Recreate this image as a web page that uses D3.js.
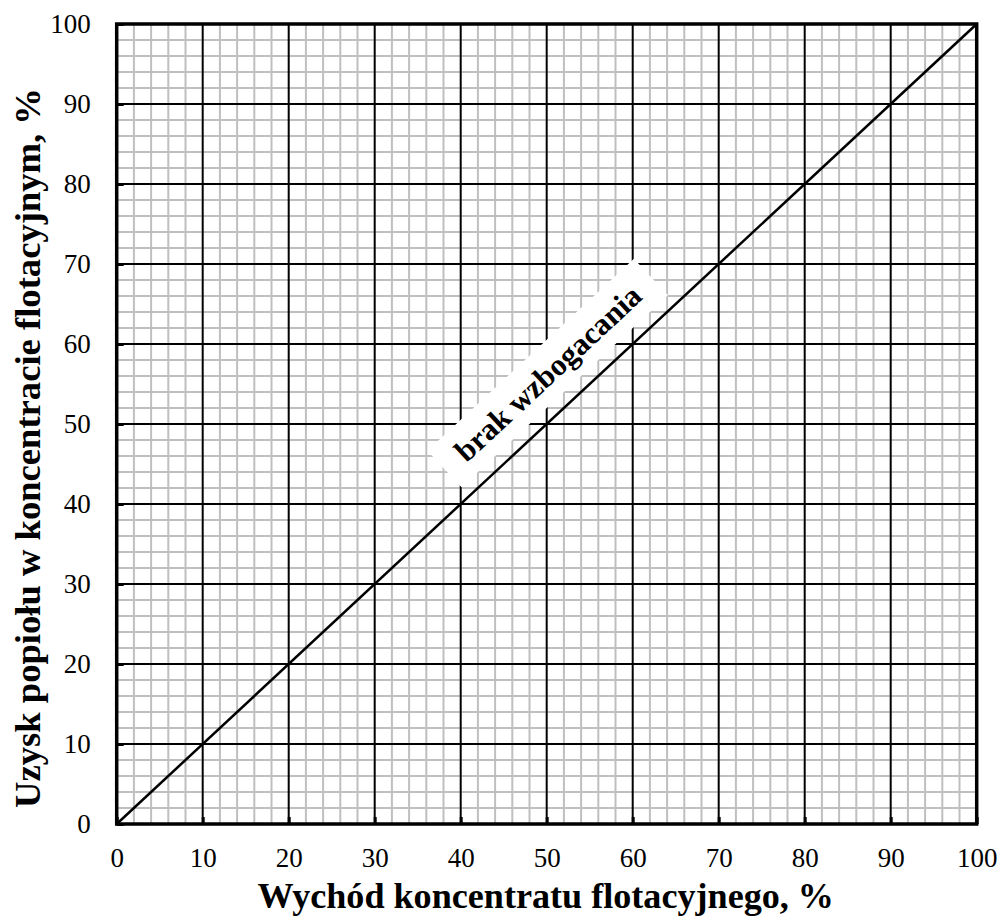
<!DOCTYPE html>
<html><head><meta charset="utf-8">
<script src="https://cdn.jsdelivr.net/npm/d3@7"></script>
<style>body{margin:0;background:#fff}svg{display:block}</style>
</head><body>
<svg id="c" width="1003" height="921"></svg>
<script>
const xTicks = [0,10,20,30,40,50,60,70,80,90,100];
const yTicks = [0,10,20,30,40,50,60,70,80,90,100];
const minorStep = 2;
const lineX = [0,100];
const lineY = [0,100];
const xTitle = "Wychód koncentratu flotacyjnego, %";
const yTitle = "Uzysk popiołu w koncentracie flotacyjnym, %";
const annotation = {text:"brak wzbogacania", x:50, y:50};

const svg = d3.select("#c");
const L=116.7, R=976.7, T=24, B=824;
const x = d3.scaleLinear().domain([0,100]).range([L,R]);
const y = d3.scaleLinear().domain([0,100]).range([B,T]);
const minor = d3.range(0,100.001,minorStep).filter(v=>v%10!==0);
const FONT = "Liberation Serif, Times New Roman, serif";

const g = svg.append("g");
g.selectAll(".mx").data(minor).join("line")
 .attr("x1",d=>x(d)).attr("x2",d=>x(d)).attr("y1",T).attr("y2",B)
 .attr("stroke","#bfbfbf").attr("stroke-width",2);
g.selectAll(".my").data(minor).join("line")
 .attr("y1",d=>y(d)).attr("y2",d=>y(d)).attr("x1",L).attr("x2",R)
 .attr("stroke","#bfbfbf").attr("stroke-width",2);
g.selectAll(".Mx").data(xTicks).join("line")
 .attr("x1",d=>x(d)).attr("x2",d=>x(d)).attr("y1",T).attr("y2",B)
 .attr("stroke","#000").attr("stroke-width",2);
g.selectAll(".My").data(yTicks).join("line")
 .attr("y1",d=>y(d)).attr("y2",d=>y(d)).attr("x1",L).attr("x2",R)
 .attr("stroke","#000").attr("stroke-width",2);

// diagonal
svg.append("path").datum(lineX.map((v,i)=>[v,lineY[i]]))
 .attr("d",d3.line().x(d=>x(d[0])).y(d=>y(d[1])))
 .attr("stroke","#000").attr("stroke-width",2.5).attr("fill","none");

// frame
svg.append("rect").attr("x",L).attr("y",T).attr("width",R-L).attr("height",B-T)
 .attr("fill","none").attr("stroke","#000").attr("stroke-width",3.5);

// axes (ticks inside)
const ax = svg.append("g").attr("transform",`translate(0,${B})`)
 .call(d3.axisBottom(x).tickValues(xTicks).tickSize(-7).tickPadding(18));
const ay = svg.append("g").attr("transform",`translate(${L},0)`)
 .call(d3.axisLeft(y).tickValues(yTicks).tickSize(-7).tickPadding(26));
[ax,ay].forEach(a=>{
  a.select(".domain").remove();
  a.selectAll(".tick line").attr("stroke","#000").attr("stroke-width",3);
  a.selectAll("text").attr("font-family",FONT)
   .attr("font-size",27).attr("fill","#000");
});
ax.selectAll("text").attr("dy","0.71em").attr("y",24);

// annotation
const ang = Math.atan2(y(0)-y(100), x(100)-x(0))*180/Math.PI;
const cx = x(annotation.x) + 1, cy = y(annotation.y) - 51;
const ag = svg.append("g").attr("transform",`translate(${cx},${cy}) rotate(${-ang})`);
const bg = ag.append("rect").attr("fill","#fff");
const at = ag.append("text").text(annotation.text)
 .attr("text-anchor","middle").attr("dy","0.35em")
 .attr("font-family",FONT)
 .attr("font-weight","bold").attr("font-size",31).attr("fill","#000");
const tl = at.node().getComputedTextLength();
bg.attr("x",-tl/2-20).attr("y",-25).attr("width",tl+40).attr("height",50);

// titles
const xt = svg.append("text").text(xTitle).attr("x",(L+R)/2-1).attr("y",908)
 .attr("text-anchor","middle").attr("font-family",FONT)
 .attr("font-weight","bold").attr("font-size",30).attr("fill","#000");
const xl = xt.node().getComputedTextLength();
xt.attr("font-size",30*577/xl);
const yt = svg.append("text").text(yTitle)
 .attr("transform",`translate(40,448) rotate(-90)`)
 .attr("text-anchor","middle").attr("font-family",FONT)
 .attr("font-weight","bold").attr("font-size",30).attr("fill","#000");
const yl = yt.node().getComputedTextLength();
yt.attr("font-size",30*720/yl);
</script>
</body></html>
